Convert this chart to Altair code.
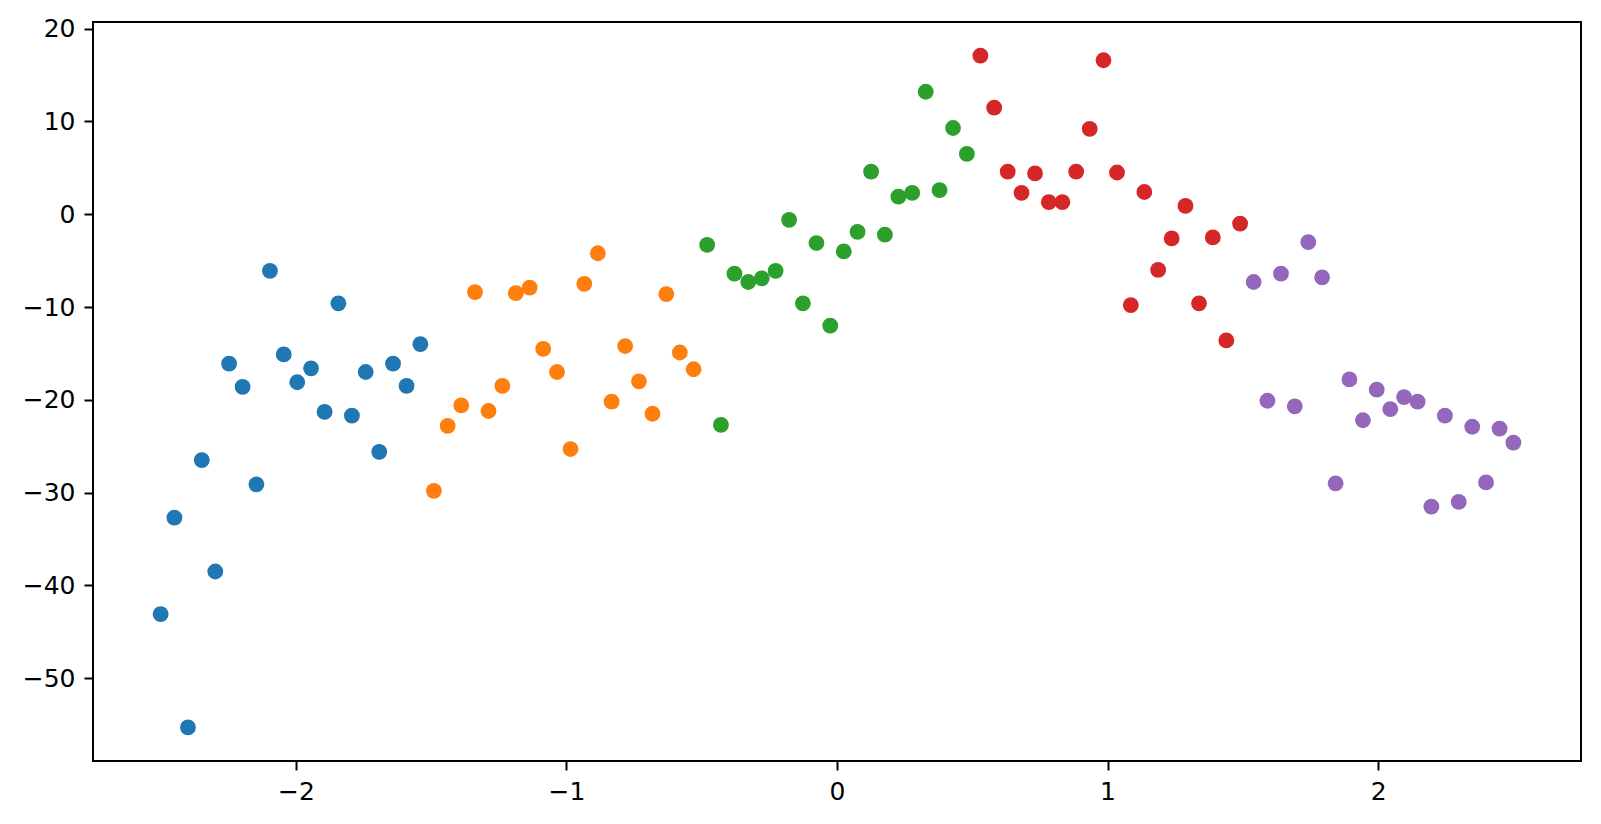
import altair as alt
import pandas as pd

x_blue = [-2.500, -2.449, -2.399, -2.348, -2.298, -2.247, -2.197, -2.146, -2.096, -2.045,
          -1.995, -1.944, -1.894, -1.843, -1.793, -1.742, -1.692, -1.641, -1.591, -1.540]
y_blue = [-43.1, -32.7, -55.3, -26.5, -38.5, -16.1, -18.6, -29.1, -6.1, -15.1,
          -18.1, -16.6, -21.3, -9.6, -21.7, -17.0, -25.6, -16.1, -18.5, -14.0]

x_orange = [-1.490, -1.439, -1.389, -1.338, -1.288, -1.237, -1.187, -1.136, -1.086, -1.035,
            -0.985, -0.934, -0.884, -0.833, -0.783, -0.732, -0.682, -0.631, -0.581, -0.530]
y_orange = [-29.8, -22.8, -20.6, -8.4, -21.2, -18.5, -8.5, -7.9, -14.5, -17.0,
            -25.3, -7.5, -4.2, -20.2, -14.2, -18.0, -21.5, -8.6, -14.9, -16.7]

x_green = [-0.480, -0.429, -0.379, -0.328, -0.278, -0.227, -0.177, -0.126, -0.076, -0.025,
           0.025, 0.076, 0.126, 0.177, 0.227, 0.278, 0.328, 0.379, 0.429, 0.480]
y_green = [-3.3, -22.7, -6.4, -7.3, -6.9, -6.1, -0.6, -9.6, -3.1, -12.0,
           -4.0, -1.9, 4.6, -2.2, 1.9, 2.3, 13.2, 2.6, 9.3, 6.5]

x_red = [0.530, 0.581, 0.631, 0.682, 0.732, 0.783, 0.833, 0.884, 0.934, 0.985,
         1.035, 1.086, 1.136, 1.187, 1.237, 1.288, 1.338, 1.389, 1.439, 1.490]
y_red = [17.1, 11.5, 4.6, 2.3, 4.4, 1.3, 1.3, 4.6, 9.2, 16.6,
         4.5, -9.8, 2.4, -6.0, -2.6, 0.9, -9.6, -2.5, -13.6, -1.0]

x_purple = [1.540, 1.591, 1.641, 1.692, 1.742, 1.793, 1.843, 1.894, 1.944, 1.995,
            2.045, 2.096, 2.146, 2.197, 2.247, 2.298, 2.348, 2.399, 2.449, 2.500]
y_purple = [-7.3, -20.1, -6.4, -20.7, -3.0, -6.8, -29.0, -17.8, -22.2, -18.9,
            -21.0, -19.7, -20.2, -31.5, -21.7, -31.0, -22.9, -28.9, -23.1, -24.6]

groups = ["g0", "g1", "g2", "g3", "g4"]
colors = ["#1f77b4", "#ff7f0e", "#2ca02c", "#d62728", "#9467bd"]
x_ticks = [-2, -1, 0, 1, 2]
y_ticks = [-50, -40, -30, -20, -10, 0, 10, 20]

rows = []
for g, xs, ys in zip(groups,
                     [x_blue, x_orange, x_green, x_red, x_purple],
                     [y_blue, y_orange, y_green, y_red, y_purple]):
    for xv, yv in zip(xs, ys):
        rows.append({"x": xv, "y": yv, "g": g})
df = pd.DataFrame(rows)

xmin, xmax = df["x"].min(), df["x"].max()
ymin, ymax = df["y"].min(), df["y"].max()
xm = (xmax - xmin) * 0.05
ym = (ymax - ymin) * 0.05

axis_common = dict(
    grid=False, domain=False, ticks=True, tickColor="black", tickWidth=2,
    tickSize=9, labelFont="DejaVu Sans", labelFontSize=25, labelColor="black",
    labelPadding=9, title=None,
)

chart = alt.Chart(df).mark_circle(opacity=1, size=250).encode(
    x=alt.X("x:Q", scale=alt.Scale(domain=[xmin - xm, xmax + xm], nice=False, zero=False),
            axis=alt.Axis(values=x_ticks, format="d", **axis_common)),
    y=alt.Y("y:Q", scale=alt.Scale(domain=[ymin - ym, ymax + ym], nice=False, zero=False),
            axis=alt.Axis(values=y_ticks, format="d", minExtent=78, maxExtent=78, **axis_common)),
    color=alt.Color("g:N", scale=alt.Scale(domain=groups, range=colors), legend=None),
).properties(
    width=1488, height=739,
    padding={"left": 7, "top": 8, "right": 5, "bottom": 5},
    background="white",
).configure_view(
    stroke="black", strokeWidth=2,
)

chart.save("out.html", embed_options={"renderer": "svg", "actions": False})
